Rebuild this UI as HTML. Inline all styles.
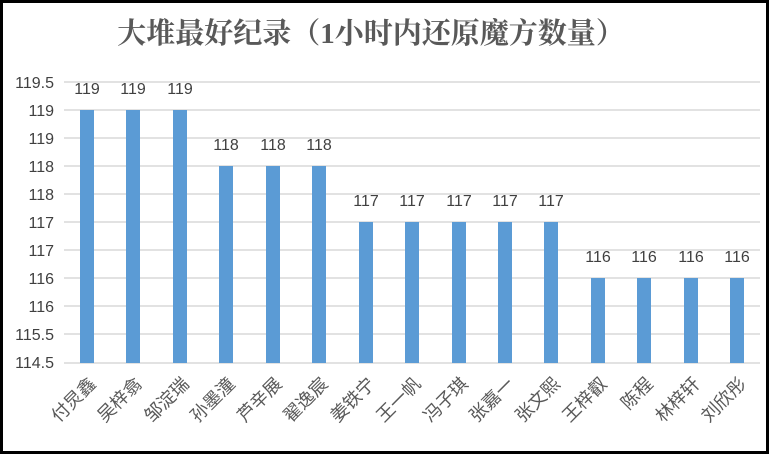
<!DOCTYPE html><html><head><meta charset="utf-8"><style>body{margin:0;background:#fff}svg{display:block}text{font-family:"Liberation Sans","Noto Sans CJK SC",sans-serif;fill:#404040}</style></head><body>
<svg width="769" height="454" xmlns="http://www.w3.org/2000/svg">
<rect x="1.5" y="1.5" width="766" height="451" fill="#fff" stroke="#000" stroke-width="3"/>
<text x="371" y="43" text-anchor="middle" font-size="29" font-weight="bold" style="font-family:'Liberation Serif','Noto Serif CJK SC',serif;fill:#595959">大堆最好纪录（1小时内还原魔方数量）</text>
<g stroke="#d9d9d9" stroke-width="1.5">
<line x1="64" x2="760" y1="82" y2="82"/><line x1="64" x2="760" y1="110" y2="110"/><line x1="64" x2="760" y1="138" y2="138"/><line x1="64" x2="760" y1="166" y2="166"/><line x1="64" x2="760" y1="194" y2="194"/><line x1="64" x2="760" y1="222" y2="222"/><line x1="64" x2="760" y1="250" y2="250"/><line x1="64" x2="760" y1="278" y2="278"/><line x1="64" x2="760" y1="306" y2="306"/><line x1="64" x2="760" y1="334" y2="334"/><line x1="64" x2="760" y1="363" y2="363"/>
</g>
<g font-size="16" text-anchor="end">
<text x="54" y="88">119.5</text><text x="54" y="116">119</text><text x="54" y="144">119</text><text x="54" y="172">118</text><text x="54" y="200">118</text><text x="54" y="228">117</text><text x="54" y="256">117</text><text x="54" y="284">116</text><text x="54" y="312">116</text><text x="54" y="340">115.5</text><text x="54" y="368">114.5</text>
</g>
<g fill="#5b9bd5">
<rect x="80" y="110" width="14" height="253"/><rect x="126" y="110" width="14" height="253"/><rect x="173" y="110" width="14" height="253"/>
<rect x="219" y="166" width="14" height="197"/><rect x="266" y="166" width="14" height="197"/><rect x="312" y="166" width="14" height="197"/>
<rect x="359" y="222" width="14" height="141"/><rect x="405" y="222" width="14" height="141"/><rect x="452" y="222" width="14" height="141"/><rect x="498" y="222" width="14" height="141"/><rect x="544" y="222" width="14" height="141"/>
<rect x="591" y="278" width="14" height="85"/><rect x="637" y="278" width="14" height="85"/><rect x="684" y="278" width="14" height="85"/><rect x="730" y="278" width="14" height="85"/>
</g>
<g font-size="16" text-anchor="middle">
<text x="87" y="94">119</text><text x="133" y="94">119</text><text x="180" y="94">119</text>
<text x="226" y="150">118</text><text x="273" y="150">118</text><text x="319" y="150">118</text>
<text x="366" y="206">117</text><text x="412" y="206">117</text><text x="459" y="206">117</text><text x="505" y="206">117</text><text x="551" y="206">117</text>
<text x="598" y="262">116</text><text x="644" y="262">116</text><text x="691" y="262">116</text><text x="737" y="262">116</text>
</g>
<g font-size="18" text-anchor="end" style="font-family:'Liberation Serif','Noto Serif CJK SC',serif">
<text transform="translate(97,385) rotate(-45)" style="fill:#595959">付炅鑫</text>
<text transform="translate(143,385) rotate(-45)" style="fill:#595959">吴梓翕</text>
<text transform="translate(190,385) rotate(-45)" style="fill:#595959">邹淀瑞</text>
<text transform="translate(236,385) rotate(-45)" style="fill:#595959">孙墨潼</text>
<text transform="translate(283,385) rotate(-45)" style="fill:#595959">芦辛展</text>
<text transform="translate(329,385) rotate(-45)" style="fill:#595959">翟逸宸</text>
<text transform="translate(376,385) rotate(-45)" style="fill:#595959">姜铁宁</text>
<text transform="translate(422,385) rotate(-45)" style="fill:#595959">王一帆</text>
<text transform="translate(469,385) rotate(-45)" style="fill:#595959">冯子琪</text>
<text transform="translate(515,385) rotate(-45)" style="fill:#595959">张嘉一</text>
<text transform="translate(561,385) rotate(-45)" style="fill:#595959">张文熙</text>
<text transform="translate(608,385) rotate(-45)" style="fill:#595959">王梓叡</text>
<text transform="translate(654,385) rotate(-45)" style="fill:#595959">陈程</text>
<text transform="translate(701,385) rotate(-45)" style="fill:#595959">林梓轩</text>
<text transform="translate(747,385) rotate(-45)" style="fill:#595959">刘欣彤</text>
</g>
</svg></body></html>
